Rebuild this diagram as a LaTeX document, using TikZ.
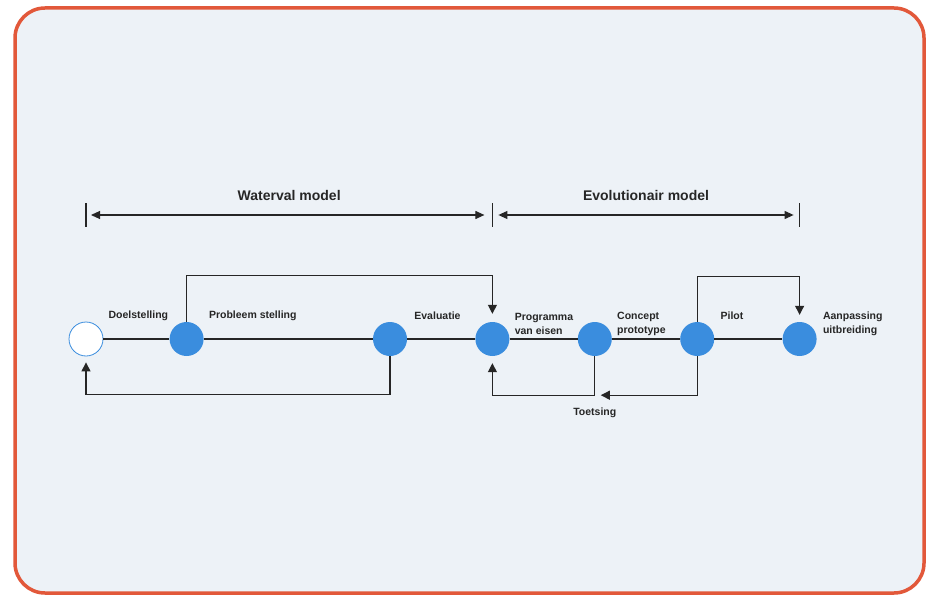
\documentclass[tikz,border=0pt]{standalone}
\usepackage{fontspec}
\setsansfont{Liberation Sans}
\usetikzlibrary{arrows.meta,positioning}
\definecolor{stapblauw}{HTML}{3A8DDE}
\definecolor{randoranje}{HTML}{E2583A}
\definecolor{papier}{HTML}{EDF2F7}
\definecolor{inkt}{HTML}{262626}

\begin{document}
\begin{tikzpicture}[x=1pt,y=-1pt,
  node distance=68pt,
  stap/.style={circle,fill=stapblauw,minimum size=34pt,inner sep=0pt},
  lbl/.style={font=\sffamily\bfseries\fontsize{10.5}{13.5}\selectfont,text=inkt,
              align=left,inner sep=0pt,anchor=west},
  kop/.style={font=\sffamily\bfseries\fontsize{14}{16}\selectfont,text=inkt,inner sep=0pt},
  lijn/.style={line width=1.1pt,inkt},
  pijl/.style={lijn,-{Triangle[length=9pt,width=9pt]}},
  maat/.style={lijn,{Triangle[length=9pt,width=8pt]}-{Triangle[length=9pt,width=8pt]}}
]
  \useasboundingbox (0,0) rectangle (928,596);
  \draw[randoranje,line width=3.5pt,fill=papier,rounded corners=30pt] (15,8) rectangle (924,593);

  % fasen
  \node[stap,fill=white,draw=stapblauw,line width=0.8pt] (doel) at (86,339) {};
  \node[stap,right=66pt of doel] (probleem) {};
  \node[stap,right=169pt of probleem] (evaluatie) {};
  \node[stap,right=of evaluatie] (programma) {};
  \node[stap,right=of programma] (concept) {};
  \node[stap,right=of concept] (pilot) {};
  \node[stap,right=of pilot] (aanpassing) {};

  \foreach \a/\b in {doel/probleem,probleem/evaluatie,evaluatie/programma,
                     programma/concept,concept/pilot,pilot/aanpassing}
    \draw[lijn] (\a) -- (\b);

  \node[lbl] (tdoel) at ([shift={(5,-23)}]doel.east) {Doelstelling};
  \node[lbl] (tprobleem) at ([shift={(5,-23)}]probleem.east) {Probleem stelling};
  \node[lbl] (tevaluatie) at ([shift={(7,-23)}]evaluatie.east) {Evaluatie};
  \node[lbl] (tprogramma) at ([shift={(5,-15)}]programma.east) {Programma\\van eisen};
  \node[lbl] (tconcept) at ([shift={(5,-15)}]concept.east) {Concept\\prototype};
  \node[lbl] (tpilot) at ([shift={(6,-23)}]pilot.east) {Pilot};
  \node[lbl] (taanpassing) at ([shift={(6,-15)}]aanpassing.east) {Aanpassing\\uitbreiding};
  \node[lbl,anchor=center] (ttoetsing) at ([yshift=-74pt]concept.center) {Toetsing};

  % terugkoppelingen
  \draw[pijl] (probleem.north) -- ++(0,-46) -| ([yshift=8pt]programma.north);
  \draw[pijl] (evaluatie.south) -- ++(0,38) -| ([yshift=-6pt]doel.south);
  \draw[pijl] (concept.south) -- ++(0,39) -| ([yshift=-7pt]programma.south);
  \draw[pijl] (pilot.south) -- ++(0,39) -- ([xshift=6pt,yshift=-39pt]concept.south);
  \draw[pijl] (pilot.north) -- ++(0,-45) -| ([yshift=7pt]aanpassing.north);

  % modellen
  \coordinate (wl) at (doel.center |- 0,215);
  \coordinate (wm) at (programma.center |- 0,215);
  \coordinate (wr) at (aanpassing.center |- 0,215);
  \foreach \p in {wl,wm,wr}
    \draw[lijn] ([yshift=12pt]\p) -- ([yshift=-12pt]\p);
  \draw[maat] ([xshift=5pt]wl) -- ([xshift=-8pt]wm);
  \draw[maat] ([xshift=6pt]wm) -- ([xshift=-6pt]wr);
  \path (wl) -- (wm) node[midway,kop,yshift=20pt] (twaterval) {Waterval model};
  \path (wm) -- (wr) node[midway,kop,yshift=20pt] (tevolutie) {Evolutionair model};
\end{tikzpicture}
\end{document}
